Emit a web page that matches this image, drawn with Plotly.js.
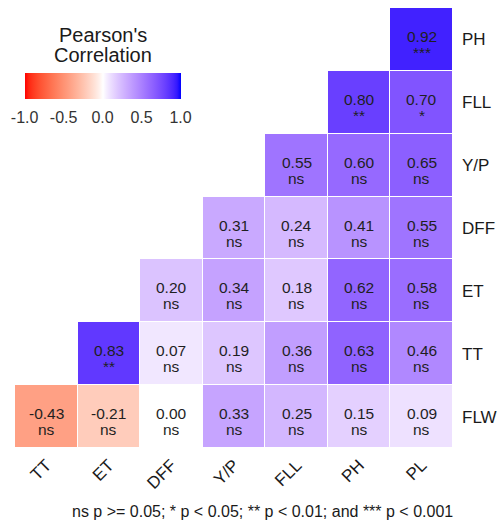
<!DOCTYPE html>
<html><head><meta charset="utf-8">
<script src="https://cdn.plot.ly/plotly-3.0.1.min.js"></script>
<style>body{margin:0;background:#fff}#chart{width:499px;height:523px}</style>
</head><body><div id="chart"></div>
<script>
const xCats = ['TT','ET','DFF','Y/P','FLL','PH','PL'];
const yCats = ['FLW','TT','ET','DFF','Y/P','FLL','PH'];
const rFLW = [-0.43,-0.21,0.00,0.33,0.25,0.15,0.09];
const rTT  = [null,0.83,0.07,0.19,0.36,0.63,0.46];
const rET  = [null,null,0.20,0.34,0.18,0.62,0.58];
const rDFF = [null,null,null,0.31,0.24,0.41,0.55];
const rYP  = [null,null,null,null,0.55,0.60,0.65];
const rFLL = [null,null,null,null,null,0.80,0.70];
const rPH  = [null,null,null,null,null,null,0.92];
const sFLW = ['ns','ns','ns','ns','ns','ns','ns'];
const sTT  = [null,'**','ns','ns','ns','ns','ns'];
const sET  = [null,null,'ns','ns','ns','ns','ns'];
const sDFF = [null,null,null,'ns','ns','ns','ns'];
const sYP  = [null,null,null,null,'ns','ns','ns'];
const sFLL = [null,null,null,null,null,'**','*'];
const sPH  = [null,null,null,null,null,null,'***'];
const cbTicks = [-1,-0.5,0,0.5,1];
const cbTickText = ['-1.0','-0.5','0.0','0.5','1.0'];
const cbTitle = ["Pearson's", 'Correlation'];
const caption = 'ns p >= 0.05; * p < 0.05; ** p < 0.01; and *** p < 0.001';

const z = [rFLW,rTT,rET,rDFF,rYP,rFLL,rPH];
const sig = [sFLW,sTT,sET,sDFF,sYP,sFLL,sPH];

// Lab interpolation (like ggplot gradient2)
function srgb2lin(c){c/=255;return c<=0.04045?c/12.92:Math.pow((c+0.055)/1.055,2.4);}
function lin2srgb(c){c=Math.max(0,Math.min(1,c));return 255*(c<=0.0031308?12.92*c:1.055*Math.pow(c,1/2.4)-0.055);}
function rgb2lab(r,g,b){
  const R=srgb2lin(r),G=srgb2lin(g),B=srgb2lin(b);
  let X=(0.4124*R+0.3576*G+0.1805*B)/0.95047, Y=(0.2126*R+0.7152*G+0.0722*B), Z=(0.0193*R+0.1192*G+0.9505*B)/1.08883;
  const f=t=>t>0.008856?Math.cbrt(t):7.787*t+16/116;
  const fx=f(X),fy=f(Y),fz=f(Z);
  return [116*fy-16,500*(fx-fy),200*(fy-fz)];
}
function lab2rgb(L,a,b){
  const fy=(L+16)/116,fx=fy+a/500,fz=fy-b/200;
  const fi=t=>t*t*t>0.008856?t*t*t:(t-16/116)/7.787;
  const X=fi(fx)*0.95047,Y=fi(fy),Z=fi(fz)*1.08883;
  const R=3.2406*X-1.5372*Y-0.4986*Z, G=-0.9689*X+1.8758*Y+0.0415*Z, B=0.0557*X-0.2040*Y+1.0570*Z;
  return 'rgb('+Math.round(lin2srgb(R))+','+Math.round(lin2srgb(G))+','+Math.round(lin2srgb(B))+')';
}
const labRed=rgb2lab(255,0,0), labWhite=rgb2lab(255,255,255), labBlue=rgb2lab(0,0,255);
const cs=[];
const N=40;
for(let k=0;k<=N;k++){
  const t=k/N; let c;
  if(t<=0.5){const u=Math.pow(1-t/0.5,0.85); c=labWhite.map((v,i)=>v+(labRed[i]-v)*u);}
  else {const u=Math.pow((t-0.5)/0.5,0.85); c=labWhite.map((v,i)=>v+(labBlue[i]-v)*u);}
  cs.push([t, lab2rgb(c[0],c[1],c[2])]);
}

const font = 'Liberation Sans, Arial, sans-serif';
const cellFont = {family:font,size:15.5,color:'#1f1f1f'};
const annos = [];
z.forEach((row,i)=>row.forEach((v,j)=>{
  if(v===null) return;
  annos.push({x:xCats[j], y:yCats[i], xref:'x', yref:'y', text:v.toFixed(2), showarrow:false,
    yshift:3, font:cellFont});
  annos.push({x:xCats[j], y:yCats[i], xref:'x', yref:'y', text:sig[i][j], showarrow:false,
    yshift:-13, font:cellFont});
}));
annos.push(
  {text:cbTitle[0], xref:'paper', yref:'paper', x:0.2009, y:0.9386, xanchor:'center', yanchor:'middle',
    showarrow:false, font:{family:font,size:20,color:'#1a1a1a'}},
  {text:cbTitle[1], xref:'paper', yref:'paper', x:0.2009, y:0.8932, xanchor:'center', yanchor:'middle',
    showarrow:false, font:{family:font,size:20,color:'#1a1a1a'}},
  {text:caption, xref:'paper', yref:'paper', x:0.565, y:-0.145, xanchor:'center', yanchor:'middle',
    showarrow:false, font:{family:font,size:16,color:'#1a1a1a'}}
);

const trace = {
  type:'heatmap', x:xCats, y:yCats, z:z,
  colorscale:cs, zmin:-1, zmax:1, xgap:1, ygap:1, hoverongaps:false,
  colorbar:{
    orientation:'h', x:0.2, xanchor:'center', y:0.8523, yanchor:'top',
    len:156, lenmode:'pixels', thickness:26, thicknessmode:'pixels',
    xpad:0, ypad:0, outlinewidth:0,
    tickvals:cbTicks, ticktext:cbTickText,
    ticks:'outside', ticklen:5, tickcolor:'rgba(0,0,0,0)', tickwidth:1,
    tickfont:{family:font,size:16,color:'#333'}
  }
};
const layout = {
  width:499, height:523, margin:{l:15,r:46,t:8,b:75},
  paper_bgcolor:'#fff', plot_bgcolor:'#fff',
  xaxis:{type:'category', tickangle:-45, showgrid:false, zeroline:false, ticks:'', showline:false,
    ticklabelstandoff:3,
    tickfont:{family:font,size:17,color:'#1a1a1a'}, fixedrange:true},
  yaxis:{type:'category', side:'right', showgrid:false, zeroline:false, ticks:'', showline:false,
    ticklabelstandoff:8,
    tickfont:{family:font,size:17,color:'#1a1a1a'}, fixedrange:true},
  annotations:annos
};
Plotly.newPlot('chart',[trace],layout,{displayModeBar:false,staticPlot:true});
</script></body></html>
